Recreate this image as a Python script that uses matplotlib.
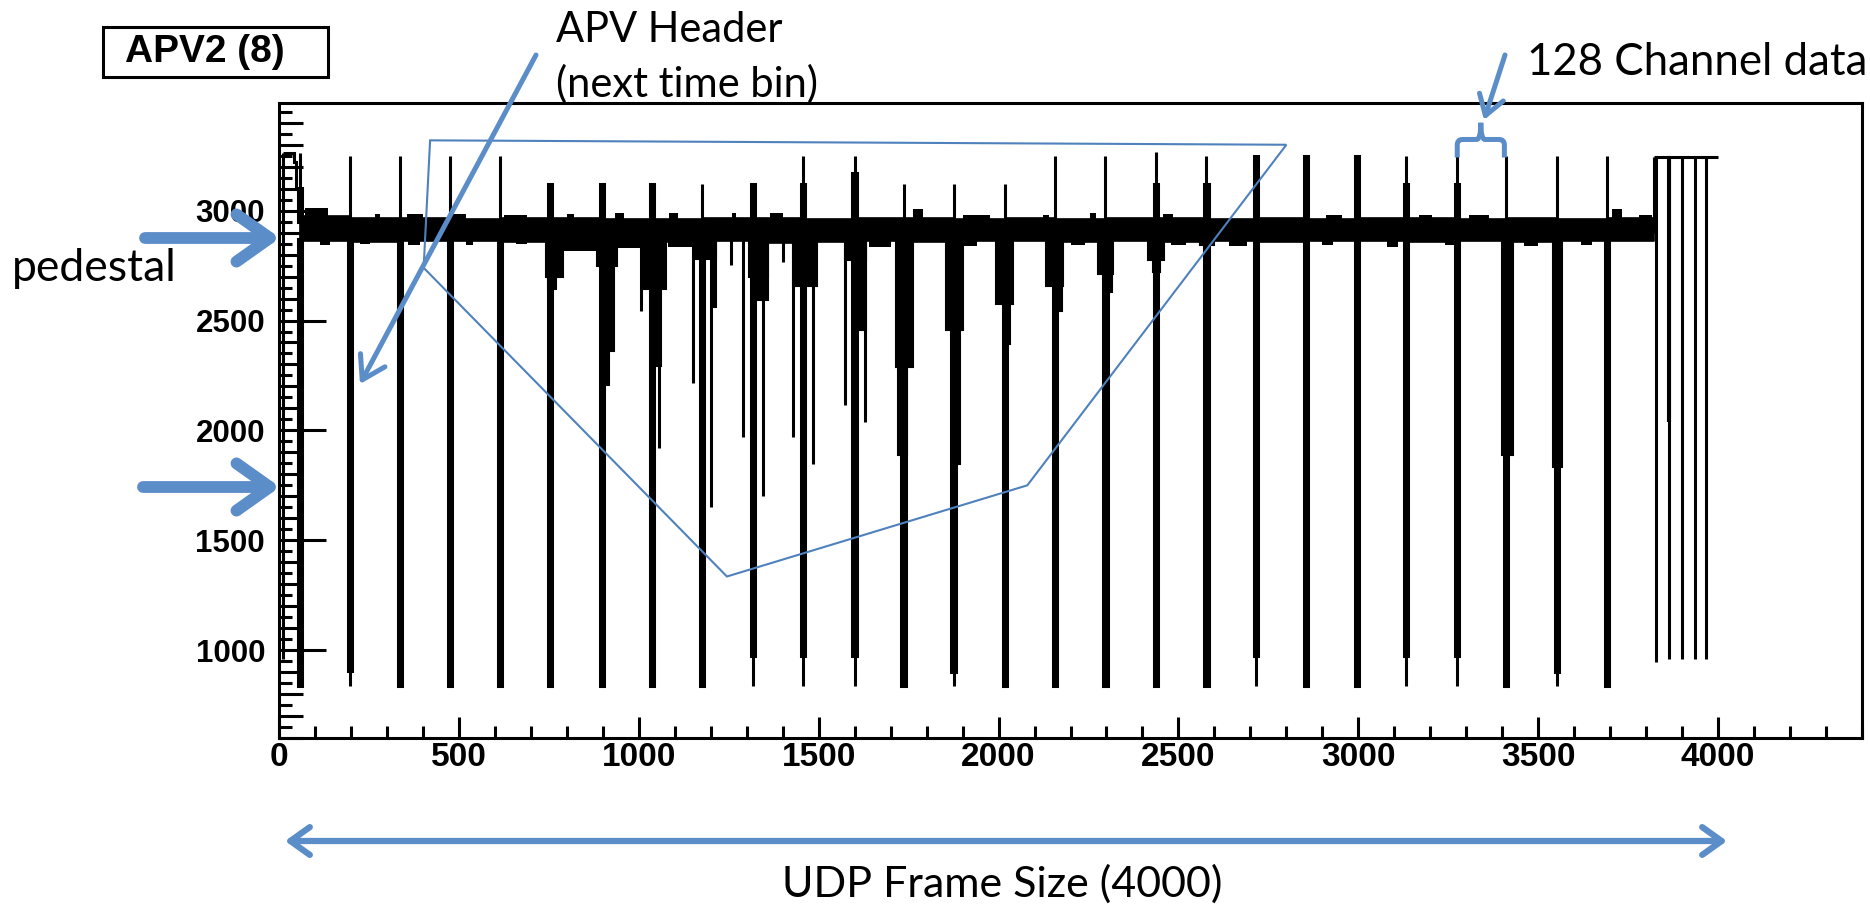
import numpy as np
import matplotlib.pyplot as plt
from matplotlib.patches import FancyArrowPatch, Rectangle, Polygon, PathPatch
from matplotlib.path import Path

W, H = 1870, 906
BLUE = "#5B8DC9"
POLY_BLUE = "#4F81BD"

# ---- values (ADC counts vs. sample index) ----
header_x = [58, 197, 336, 475, 614, 753, 897, 1036, 1175, 1317, 1456, 1600, 1736, 1875,
            2017, 2156, 2297, 2438, 2578, 2716, 2855, 2997, 3133, 3275, 3411, 3553, 3692]
header_peak = [3262, 3250, 3250, 3250, 3250, 3123, 3123, 3123, 3123, 3123, 3250, 3250, 3123, 3123,
               3123, 3250, 3250, 3268, 3250, 3250, 3250, 3250, 3250, 3250, 3250, 3250, 3250]
header_block = [3105, np.nan, np.nan, np.nan, np.nan, 3123, 3123, 3123, np.nan, 3123, 3123, 3173, np.nan, np.nan,
                np.nan, np.nan, np.nan, 3123, 3123, 3250, 3250, 3250, 3123, 3123, np.nan, np.nan, np.nan]
header_floor = [838, 905, 838, 838, 838, 838, 838, 838, 838, 973, 973, 973, 838, 900,
                838, 838, 838, 838, 838, 973, 838, 838, 973, 973, 838, 900, 838]
header_low = 838

ped_end = 3822
ped_top = [2975, 2965, 2968, 2962, 2968, 2965, 2960, 2962, 2965, 2968, 2962, 2965, 2965, 2962,
           2965, 2962, 2965, 2968, 2962, 2965, 2962, 2965, 2965, 2962, 2965, 2962, 2968]
ped_bot = [2862, 2858, 2860, 2862, 2858, 2855, 2860, 2858, 2862, 2855, 2858, 2860, 2858, 2860,
           2862, 2858, 2860, 2858, 2862, 2858, 2860, 2862, 2858, 2860, 2858, 2862, 2860]

# small excursions of the pedestal band (x0, x1, level)
bump_up_x0 = [72, 267, 355, 480, 625, 800, 935, 1085, 1260, 1364, 1762, 1901, 2123, 2253, 2456, 2910, 3169, 3308, 3706, 3780]
bump_up_x1 = [137, 280, 401, 521, 690, 820, 960, 1110, 1270, 1401, 1790, 1975, 2141, 2271, 2484, 2956, 3206, 3364, 3734, 3817]
bump_up_y = [3010, 2985, 2985, 2983, 2978, 2985, 2990, 2988, 2990, 2991, 3008, 2981, 2982, 2991, 2983, 2978, 2980, 2980, 3008, 2980]
bump_dn_x0 = [114, 225, 359, 520, 660, 790, 940, 1080, 1640, 1900, 2200, 2480, 2640, 2900, 3080, 3240, 3460, 3620]
bump_dn_x1 = [142, 253, 392, 540, 690, 900, 1010, 1150, 1700, 1940, 2240, 2520, 2690, 2930, 3110, 3270, 3500, 3650]
bump_dn_y = [2846, 2848, 2846, 2845, 2848, 2815, 2830, 2835, 2835, 2840, 2845, 2842, 2840, 2845, 2835, 2842, 2840, 2845]

# signal clusters (x0, x1, minimum)
clus_x0 = [742, 748, 885, 900, 905, 1012, 1045, 1160, 1205, 1305, 1327, 1430, 1572, 1600, 1716, 1720,
           1855, 1880, 1993, 2020, 2132, 2160, 2276, 2305, 2415, 2430, 2560, 3398, 3542]
clus_x1 = [790, 770, 940, 930, 918, 1077, 1063, 1216, 1216, 1359, 1359, 1494, 1632, 1632, 1762, 1745,
           1900, 1892, 2040, 2032, 2178, 2176, 2317, 2315, 2461, 2450, 2600, 3430, 3567]
clus_y = [2700, 2645, 2750, 2360, 2207, 2645, 2291, 2780, 2560, 2700, 2594, 2658, 2776, 2459, 2290, 1886,
          2459, 1845, 2577, 2391, 2658, 2543, 2711, 2628, 2776, 2720, 2845, 1886, 1833]

# single-channel hits
hit_x = [1007, 1055, 1151, 1202, 1257, 1290, 1345, 1401, 1429, 1484, 1572, 1628]
hit_y = [2543, 1920, 2215, 1651, 2754, 1971, 1701, 2768, 1971, 1845, 2114, 2038]

# start of the frame and trailer
start_edges = [12, 42, 48, 56]
start_vals = [3262, 3220, 3105]
start_low = 960
trail_top = 3245
trail_end = 4000
trail_x = [3828, 3864, 3900, 3935, 3967]
trail_y = [945, 959, 959, 959, 959]
trail_thick_x = 3864
trail_thick_y = 2042

# blue outline drawn over the data
poly_x = [420, 2800, 2080, 1245, 402]
poly_y = [3320, 3300, 1750, 1335, 2740]

fig = plt.figure(figsize=(W / 100, H / 100), dpi=100)
ax = fig.add_axes([279 / W, 1 - 738 / H, (1862 - 279) / W, (738 - 103) / H])
ax.set_xlim(0, 4400)
ax.set_ylim(600, 3490)

LW = 2.2
k = "black"

# pedestal band
xs = header_x + [ped_end]
ax.fill_between(xs, ped_bot + [ped_bot[-1]], ped_top + [ped_top[-1]], step="post", color=k, lw=1.2)
ux0, ux1 = np.array(bump_up_x0), np.array(bump_up_x1)
ax.bar((ux0 + ux1) / 2, np.array(bump_up_y) - 2950, width=ux1 - ux0, bottom=2950, color=k, lw=1)
dx0, dx1 = np.array(bump_dn_x0), np.array(bump_dn_x1)
ax.bar((dx0 + dx1) / 2, 2870 - np.array(bump_dn_y), width=dx1 - dx0, bottom=bump_dn_y, color=k, lw=1)

# clusters and hits
cx0, cx1 = np.array(clus_x0), np.array(clus_x1)
ax.bar((cx0 + cx1) / 2, 2870 - np.array(clus_y), width=cx1 - cx0, bottom=clus_y, color=k, ec=k, lw=1.5)
ax.vlines(hit_x, hit_y, 2870, color=k, lw=LW)

# APV headers
hx = np.array(header_x)
floor = np.array(header_floor)
ax.bar(hx, 2870 - floor, width=12, bottom=floor, color=k, ec=k, lw=LW)
ax.vlines(hx, header_low, floor, color=k, lw=LW)
ax.vlines(hx, 2950, header_peak, color=k, lw=LW)
blk = np.array(header_block)
ok = ~np.isnan(blk)
ax.bar(hx[ok], blk[ok] - 2950, width=12, bottom=2950, color=k, ec=k, lw=LW)

# frame start
ax.stairs(start_vals, start_edges, color=k, lw=LW, baseline=None)
ax.vlines(start_edges[0], start_low, start_vals[0], color=k, lw=LW)

# trailer
ax.hlines(trail_top, ped_end, trail_end, color=k, lw=LW)
ax.vlines(ped_end, 2900, trail_top, color=k, lw=LW)
ax.vlines(trail_x, trail_y, trail_top, color=k, lw=LW)
ax.bar(trail_thick_x, trail_top - trail_thick_y, width=6, bottom=trail_thick_y, color=k, ec=k, lw=1.5)

# axes in ROOT style
for s in ax.spines.values():
    s.set_linewidth(LW)
ax.set_xticks(np.arange(0, 4001, 500))
ax.set_xticks(np.arange(0, 4401, 100), minor=True)
ax.set_yticks(np.arange(1000, 3001, 500))
ax.set_yticks(np.arange(600, 3491, 100), minor=True)
ax.tick_params(axis="x", which="major", direction="in", length=15, width=LW, labelsize=24, pad=3)
ax.tick_params(axis="x", which="minor", direction="in", length=8.6, width=LW)
ax.tick_params(axis="y", which="major", direction="in", length=34, width=LW, labelsize=22.5, pad=10)
ax.tick_params(axis="y", which="minor", direction="in", length=17, width=LW)
ax.hlines(np.arange(650, 3490, 100), 0, 13 / 1583, transform=ax.get_yaxis_transform(), color=k, lw=LW)
for t in ax.get_xticklabels() + ax.get_yticklabels():
    t.set_fontweight("bold")
    t.set_fontfamily("Liberation Sans")

ax.add_patch(Polygon(np.column_stack([poly_x, poly_y]), closed=True, fill=False,
                     ec=POLY_BLUE, lw=1.5, clip_on=False, zorder=6))

# brace over one frame (header to header)
bx0, bx1 = header_x[23], header_x[24] - 5
bxc = (bx0 + bx1) / 2
yb, ym, yt = 3242, 3324, 3400
verts = [(bx0, yb), (bx0, ym - 25), (bx0, ym), (bx0 + 15, ym), (bxc - 12, ym), (bxc, ym), (bxc, yt),
         (bxc, ym), (bxc + 12, ym), (bx1 - 15, ym), (bx1, ym), (bx1, ym - 25), (bx1, yb)]
codes = [Path.MOVETO, Path.LINETO, Path.CURVE3, Path.CURVE3, Path.LINETO, Path.CURVE3, Path.CURVE3,
         Path.CURVE3, Path.CURVE3, Path.LINETO, Path.CURVE3, Path.CURVE3, Path.LINETO]
ax.add_patch(PathPatch(Path(verts, codes), fill=False, ec=BLUE, lw=3.6, clip_on=False, zorder=6))

# overlay in pixel coordinates for the slide annotations
ov = fig.add_axes([0, 0, 1, 1])
ov.set_xlim(0, W)
ov.set_ylim(H, 0)
ov.axis("off")

ov.add_patch(Rectangle((103, 27), 225, 50, fill=False, lw=LW, ec=k))
ov.text(125, 62, "APV2 (8)", fontsize=28, fontweight="bold", family="Liberation Sans", va="baseline")

tf = dict(family="Lato", va="baseline", color=k)
ov.text(556, 42, "APV Header", fontsize=30, **tf)
ov.text(556, 97, "(next time bin)", fontsize=30, **tf)
ov.text(1527, 75, "128 Channel data", fontsize=31.5, **tf)
ov.text(12, 281, "pedestal", fontsize=32, **tf)
ov.text(1002, 897, "UDP Frame Size (4000)", ha="center", fontsize=31, **tf)


def arrow(p0, p1, style, lw):
    ov.add_patch(FancyArrowPatch(p0, p1, arrowstyle=style, color=BLUE, lw=lw,
                                 shrinkA=0, shrinkB=0, mutation_scale=1))


arrow((145, 238), (280, 238), "->,head_length=24,head_width=17", 8.5)
arrow((143, 487), (280, 487), "->,head_length=24,head_width=17", 8.5)
arrow((536, 55), (360, 384), "->,head_length=16,head_width=10", 3.6)
arrow((1505, 55), (1484, 120), "->,head_length=14,head_width=9", 3.6)
arrow((285, 841), (1727, 841), "<->,head_length=14,head_width=10", 4.5)

fig.savefig("out.png", dpi=100)
